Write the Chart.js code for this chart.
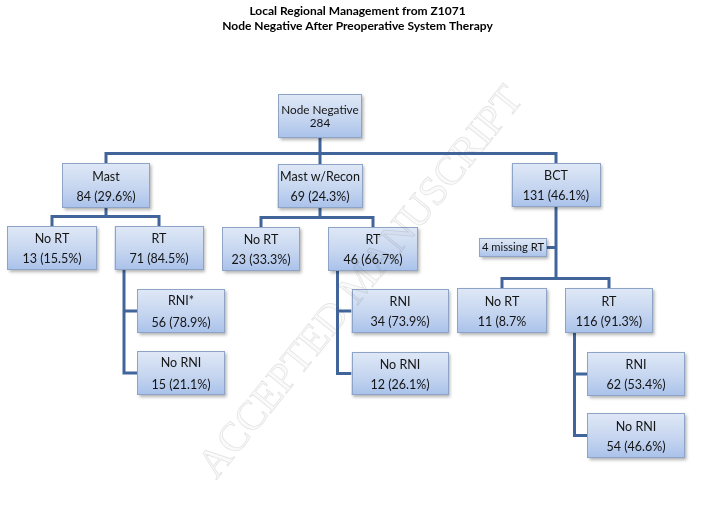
<!DOCTYPE html>
<html>
<head>
<meta charset="utf-8">
<script src="https://cdn.jsdelivr.net/npm/chart.js@4.4.1/dist/chart.umd.min.js"></script>
<style>
  body { margin: 0; background: #ffffff; }
  #tree { display: block; }
</style>
</head>
<body>
<canvas id="tree" width="715" height="523"></canvas>
<script>
// chart text
var titleLines = ['Local Regional Management from Z1071', 'Node Negative After Preoperative System Therapy'];
var watermark = 'ACCEPTED MANUSCRIPT';

// tree data
var nodeNames  = ['Node Negative', 'Mast', 'Mast w/Recon', 'BCT',
                  'No RT', 'RT', 'RNI*', 'No RNI',
                  'No RT', 'RT', 'RNI', 'No RNI',
                  '4 missing RT', 'No RT', 'RT', 'RNI', 'No RNI'];
var nodeCounts = ['284', '84 (29.6%)', '69 (24.3%)', '131 (46.1%)',
                  '13 (15.5%)', '71 (84.5%)', '56 (78.9%)', '15 (21.1%)',
                  '23 (33.3%)', '46 (66.7%)', '34 (73.9%)', '12 (26.1%)',
                  '', '11 (8.7%', '116 (91.3%)', '62 (53.4%)', '54 (46.6%)'];
var nodeParent = [-1, 0, 0, 0, 1, 1, 5, 5, 2, 2, 9, 9, 3, 3, 3, 14, 14];
var nodeLink   = ['', 'fork', 'fork', 'fork', 'fork', 'fork', 'rail', 'rail',
                  'fork', 'fork', 'rail', 'rail', 'side', 'fork', 'fork', 'rail', 'rail'];

// layout (box centres and sizes in layout units)
var nodeX = [320, 106, 320, 556, 52, 159, 181, 181, 261, 373, 400, 400, 513, 502, 609, 636, 636];
var nodeY = [116, 185.5, 186, 185, 248, 248, 311, 373, 249, 249, 311, 373.5, 247.5, 310.5, 310.5, 374, 435.5];
var nodeW = [84, 88, 85, 89, 90, 89, 88, 88, 78, 90, 97, 97, 68, 90, 88, 98, 98];
var nodeH = [44, 45, 44, 44, 44, 44, 44, 44, 44, 44, 44, 43, 19, 45, 45, 44, 45];
var lineGap = [13, 20, 20, 20, 20, 20, 22, 22, 20, 20, 20, 20, 0, 20, 20, 20, 20];

var points = [];
for (var i = 0; i < nodeNames.length; i++) {
    points.push({x: nodeX[i], y: nodeY[i]});
}

var treePlugin = {
    id: 'tree',
    afterDatasetsDraw: function (chart) {
        var ctx = chart.ctx;
        var sx = chart.scales.x, sy = chart.scales.y;
        var els = chart.getDatasetMeta(0).data;
        var box = function (i) {
            var cx = els[i].x, cy = els[i].y;
            var w = sx.getPixelForValue(nodeW[i]) - sx.getPixelForValue(0);
            var h = sy.getPixelForValue(nodeH[i]) - sy.getPixelForValue(0);
            return {cx: cx, cy: cy, l: cx - w / 2, r: cx + w / 2, t: cy - h / 2, b: cy + h / 2, w: w, h: h};
        };

        // connectors
        ctx.save();
        ctx.strokeStyle = '#41659a';
        ctx.lineWidth = 3;
        ctx.lineCap = 'butt';
        for (var p = 0; p < nodeNames.length; p++) {
            var pb = box(p);
            var forks = [], rails = [];
            for (var c = 0; c < nodeNames.length; c++) {
                if (nodeParent[c] !== p) continue;
                if (nodeLink[c] === 'fork') forks.push(c);
                if (nodeLink[c] === 'rail') rails.push(c);
                if (nodeLink[c] === 'side') {
                    var sb = box(c);
                    ctx.beginPath();
                    ctx.moveTo(sb.r, sb.cy);
                    ctx.lineTo(pb.cx, sb.cy);
                    ctx.stroke();
                }
            }
            if (forks.length) {
                var top = Infinity, minX = Infinity, maxX = -Infinity;
                forks.forEach(function (c) {
                    var b = box(c);
                    top = Math.min(top, b.t);
                    minX = Math.min(minX, b.cx);
                    maxX = Math.max(maxX, b.cx);
                });
                var barY = top - 9.5;
                ctx.beginPath();
                ctx.moveTo(pb.cx, pb.b);
                ctx.lineTo(pb.cx, barY);
                ctx.moveTo(minX - 1.5, barY);
                ctx.lineTo(maxX + 1.5, barY);
                forks.forEach(function (c) {
                    var b = box(c);
                    ctx.moveTo(b.cx, barY);
                    ctx.lineTo(b.cx, b.t);
                });
                ctx.stroke();
            }
            if (rails.length) {
                var railX = pb.l + 9.5;
                var lastY = pb.b;
                rails.forEach(function (c) { lastY = Math.max(lastY, box(c).cy); });
                ctx.beginPath();
                ctx.moveTo(railX, pb.b);
                ctx.lineTo(railX, lastY);
                rails.forEach(function (c) {
                    var b = box(c);
                    ctx.moveTo(railX - 1.5, b.cy);
                    ctx.lineTo(b.l, b.cy);
                });
                ctx.stroke();
            }
        }
        ctx.restore();

        // boxes
        for (var n = 0; n < nodeNames.length; n++) {
            var b = box(n);
            ctx.save();
            ctx.shadowColor = 'rgba(0,0,0,0.3)';
            ctx.shadowBlur = 3;
            ctx.shadowOffsetX = 1.5;
            ctx.shadowOffsetY = 2;
            var g = ctx.createLinearGradient(0, b.t, 0, b.b);
            g.addColorStop(0, '#dfe8f6');
            g.addColorStop(0.55, '#c6d6f0');
            g.addColorStop(1, '#a9c1ea');
            ctx.fillStyle = g;
            ctx.fillRect(b.l, b.t, b.w, b.h);
            ctx.restore();
            ctx.save();
            ctx.strokeStyle = '#8ea4c6';
            ctx.lineWidth = 1;
            ctx.strokeRect(Math.round(b.l) + 0.5, Math.round(b.t) + 0.5, Math.round(b.w) - 1, Math.round(b.h) - 1);
            ctx.fillStyle = '#141414';
            var size = 12.5;
            ctx.font = size + 'px Lato';
            while (ctx.measureText(nodeNames[n]).width > b.w - 5 && size > 9) {
                size -= 0.25;
                ctx.font = size + 'px Lato';
            }
            ctx.textAlign = 'center';
            ctx.textBaseline = 'middle';
            if (nodeCounts[n] === '') {
                ctx.fillText(nodeNames[n], b.cx, b.cy);
            } else {
                ctx.fillText(nodeNames[n], b.cx, b.cy + 1 - lineGap[n] / 2);
                ctx.fillText(nodeCounts[n], b.cx, b.cy + 1 + lineGap[n] / 2);
            }
            ctx.restore();
        }
    },
    afterDraw: function (chart) {
        var ctx = chart.ctx;
        ctx.save();
        ctx.translate(chart.scales.x.getPixelForValue(362), chart.scales.y.getPixelForValue(283));
        ctx.rotate(-51 * Math.PI / 180);
        ctx.font = '40px "Liberation Serif"';
        var k = 490 / ctx.measureText(watermark).width;
        ctx.font = (40 * k).toFixed(1) + 'px "Liberation Serif"';
        ctx.textAlign = 'center';
        ctx.textBaseline = 'middle';
        ctx.fillStyle = 'rgba(0,0,0,0.02)';
        ctx.fillText(watermark, 0, 0);
        ctx.strokeStyle = 'rgba(120,120,120,0.2)';
        ctx.lineWidth = 0.8;
        ctx.strokeText(watermark, 0, 0);
        ctx.restore();
    }
};

var treeChart = new Chart(document.getElementById('tree'), {
    type: 'scatter',
    data: {
        datasets: [{
            label: 'nodes',
            data: points,
            pointRadius: 0,
            pointHoverRadius: 0
        }]
    },
    options: {
        responsive: false,
        animation: false,
        layout: { padding: 0 },
        plugins: {
            legend: { display: false },
            tooltip: { enabled: false },
            title: {
                display: true,
                text: titleLines,
                color: '#000000',
                font: { family: 'Lato', size: 12, weight: 'bold', lineHeight: 1.25 },
                padding: { top: 4, bottom: 6 }
            }
        },
        scales: {
            x: { type: 'linear', min: 0, max: 715, display: false },
            y: { type: 'linear', min: 40, max: 523, reverse: true, display: false }
        }
    },
    plugins: [treePlugin]
});
</script>
</body>
</html>
